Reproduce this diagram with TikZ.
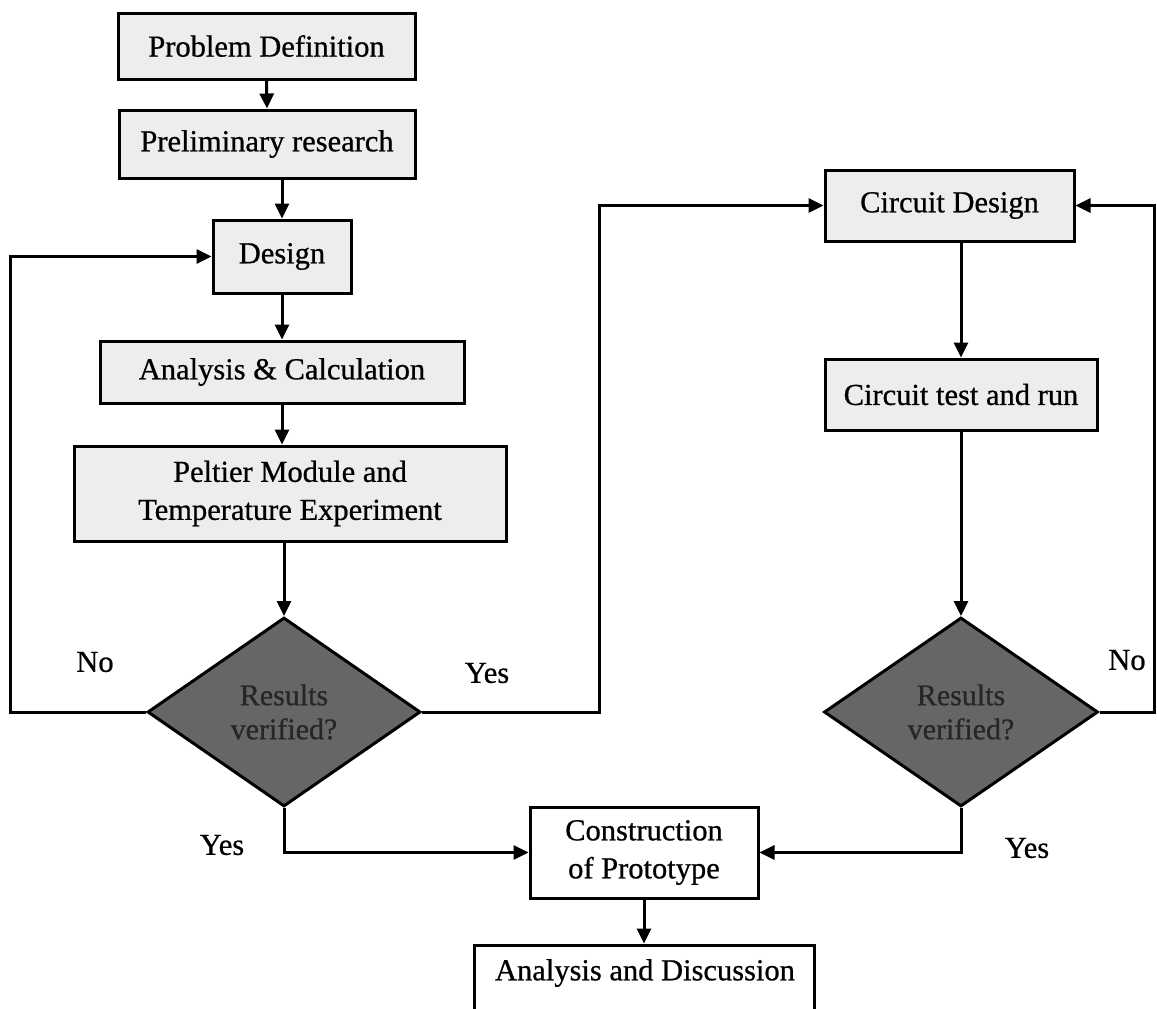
\documentclass[tikz,border=0pt]{standalone}
\usepackage{fontspec}
\setmainfont{Liberation Serif}[FakeBold=0.7]
\usetikzlibrary{arrows.meta,shapes.geometric}
\begin{document}
\begin{tikzpicture}[x=1pt,y=-1pt,
  box/.style={draw=black,line width=3pt,fill=black!7,inner sep=0pt,align=center,font=\fontsize{30.5}{38}\selectfont},
  wbox/.style={box,fill=white},
  dec/.style={diamond,draw=black,line width=3pt,fill=black!60,inner sep=0pt,align=center,font=\fontsize{30}{34}\selectfont,text=black!85},
  arr/.style={line width=3pt,-{Triangle[length=15pt,width=14pt]}},
  lbl/.style={font=\fontsize{30.5}{36}\selectfont,inner sep=0pt}]
\useasboundingbox (0,0) rectangle (1157,1009);
\clip (0,0) rectangle (1157,1009);
\fill[white] (0,0) rectangle (1157,1009);

% left column
\node[box,minimum width=297pt,minimum height=66pt] (pd) at (266.5,46) {Problem Definition};
\node[box,minimum width=296pt,minimum height=68pt] (pr) at (267,144) {Preliminary research};
\node[box,minimum width=138pt,minimum height=73pt] (design) at (282,256.5) {Design};
\node[box,minimum width=364pt,minimum height=62pt] (ac) at (282,372) {Analysis \& Calculation};
\node[box,minimum width=432pt,minimum height=95pt] (pel) at (290,493.5) {Peltier Module and\\Temperature Experiment};
\node[dec,minimum width=273pt,minimum height=189pt] (d1) at (284,712) {Results\\verified?};

% right column
\node[box,minimum width=249pt,minimum height=71pt] (cd) at (949.5,205.5) {Circuit Design};
\node[box,minimum width=272pt,minimum height=71pt] (ct) at (961,394.5) {Circuit test and run};
\node[dec,minimum width=274pt,minimum height=189pt] (d2) at (961,712) {Results\\verified?};

% bottom
\node[wbox,minimum width=228pt,minimum height=91pt] (con) at (644,852.5) {Construction\\of Prototype};
\node[wbox,minimum width=340pt,minimum height=100pt] (ad) at (644,995) {};
\node[lbl] (adt) at (645,973) {Analysis and Discussion};

% labels
\node[lbl] (no1) at (95,662) {No};
\node[lbl] (yes1) at (487,673) {Yes};
\node[lbl] (yes2) at (222,845) {Yes};
\node[lbl] (yes3) at (1027,848) {Yes};
\node[lbl] (no2) at (1127,660) {No};

\coordinate (lx) at (10,712);
\coordinate (mx) at (599,712);
\coordinate (rx) at (1154,712);

% connectors
\draw[arr] (pd.south) -- (pr.north);
\draw[arr] (design.north |- pr.south) -- (design.north);
\draw[arr] (design.south) -- (ac.north);
\draw[arr] (ac.south) -- (ac.south |- pel.north);
\draw[arr] (d1.north |- pel.south) -- (d1.north);
\draw[arr] (d1.west) -- (lx) |- (design.west);
\draw[arr] (d1.east) -- (mx) |- (cd.west);
\draw[arr] (ct.north |- cd.south) -- (ct.north);
\draw[arr] (ct.south) -- (d2.north);
\draw[arr] (d2.east) -- (rx) |- (cd.east);
\draw[arr] (d1.south) |- (con.west);
\draw[arr] (d2.south) |- (con.east);
\draw[arr] (con.south) -- (ad.north);
\end{tikzpicture}
\end{document}
